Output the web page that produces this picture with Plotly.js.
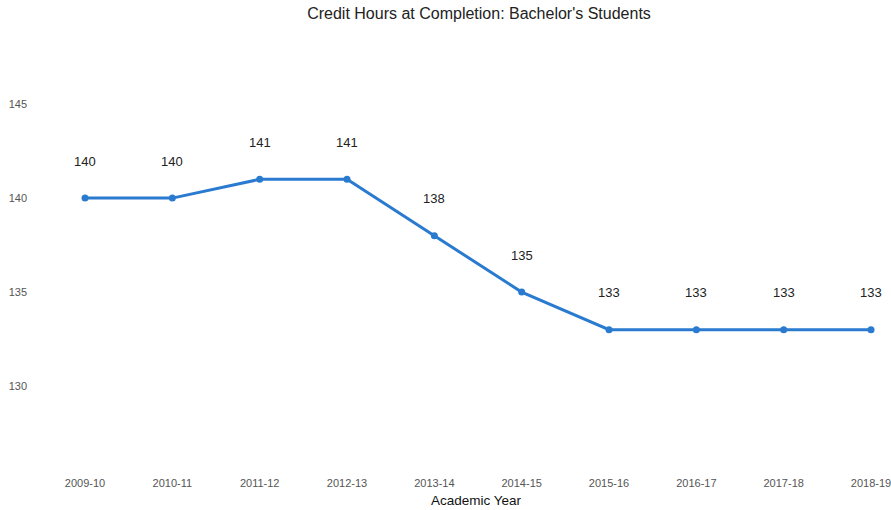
<!DOCTYPE html>
<html>
<head>
<meta charset="utf-8">
<script src="https://cdn.plot.ly/plotly-3.0.1.min.js"></script>
<style>body{margin:0;padding:0;background:#fff}#chart{width:891px;height:510px}</style>
</head>
<body>
<div id="chart"></div>
<script>
const years = ["2009-10","2010-11","2011-12","2012-13","2013-14","2014-15","2015-16","2016-17","2017-18","2018-19"];
const creditHours = [140,140,141,141,138,135,133,133,133,133];
const yTicks = [130,135,140,145];

const trace = {
  x: years, y: creditHours, type: "scatter", mode: "lines+markers",
  line: {color: "#2a7bd0", width: 3},
  marker: {color: "#2a7bd0", size: 7},
  hoverinfo: "x+y", cliponaxis: false
};
const annotations = years.map((yr, i) => ({
  x: yr, y: creditHours[i], xref: "x", yref: "y",
  text: String(creditHours[i]), showarrow: false, yshift: 37,
  font: {family: "Liberation Sans, Arial, sans-serif", size: 13, color: "#222"}
}));
annotations.push({
  text: "Academic Year", xref: "paper", yref: "paper", x: 0.529, y: -0.059,
  xanchor: "center", yanchor: "middle", showarrow: false,
  font: {family: "Liberation Sans, Arial, sans-serif", size: 13.5, color: "#111"}
});
const layout = {
  width: 891, height: 510,
  margin: {l: 28, r: 15, t: 50, b: 35},
  paper_bgcolor: "#fff", plot_bgcolor: "#fff",
  font: {family: "Liberation Sans, Arial, sans-serif"},
  title: {text: "Credit Hours at Completion: Bachelor's Students", x: 0.5376, xanchor: "center", y: 0.973, yref: "container", yanchor: "middle",
          font: {size: 16, color: "#222"}},
  xaxis: {type: "category", range: [-0.653, 9.057], showgrid: false, zeroline: false, showline: false, ticks: "",
          tickfont: {size: 11, color: "#555"}},
  yaxis: {range: [125.27, 147.88], tickvals: yTicks, showgrid: false, zeroline: false, showline: false, ticks: "",
          tickfont: {size: 11, color: "#555"}},
  annotations: annotations,
  showlegend: false
};
Plotly.newPlot("chart", [trace], layout, {displayModeBar: false});
</script>
</body>
</html>
